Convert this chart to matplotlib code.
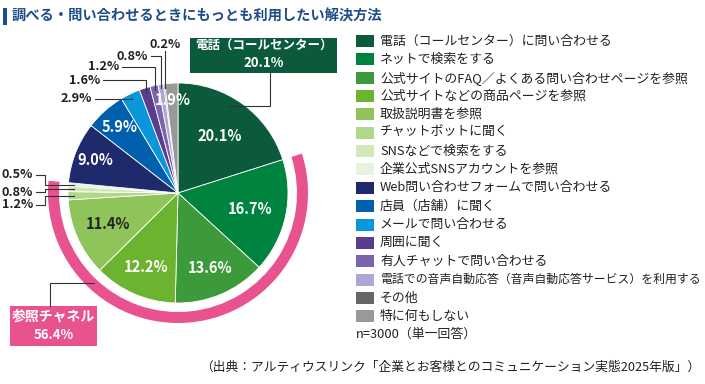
import numpy as np
import matplotlib
matplotlib.use("Agg")
import matplotlib.pyplot as plt
from matplotlib.patches import Wedge, Rectangle

plt.rcParams['font.family'] = ['Noto Sans CJK JP', 'DejaVu Sans']

title = "調べる・問い合わせるときにもっとも利用したい解決方法"

labels = [
    "電話（コールセンター）に問い合わせる",
    "ネットで検索をする",
    "公式サイトのFAQ／よくある問い合わせページを参照",
    "公式サイトなどの商品ページを参照",
    "取扱説明書を参照",
    "チャットボットに聞く",
    "SNSなどで検索をする",
    "企業公式SNSアカウントを参照",
    "Web問い合わせフォームで問い合わせる",
    "店員（店舗）に聞く",
    "メールで問い合わせる",
    "周囲に聞く",
    "有人チャットで問い合わせる",
    "電話での音声自動応答（音声自動応答サービス）を利用する",
    "その他",
    "特に何もしない",
]
values = [20.1, 16.7, 13.6, 12.2, 11.4, 1.2, 0.8, 0.5, 9.0, 5.9, 2.9, 1.6, 1.2, 0.8, 0.2, 1.9]
colors = ["#0b5a3c", "#00833f", "#3c9a3a", "#6cb42f", "#8fc45a", "#b1d78c",
          "#d2e8b8", "#e8f3dd", "#1e2a6b", "#0060ad", "#0a96da", "#5a3d8c",
          "#7b63ad", "#b0a6d4", "#666666", "#999999"]

# slices grouped as 参照チャネル (index range) and the callouts
ref_group = (1, 8)
ref_label = "参照チャネル"
ref_total = "56.4%"
phone_label = "電話（コールセンター）"
phone_total = "20.1%"
note = "n=3000（単一回答）"
source = "（出典：アルティウスリンク「企業とお客様とのコミュニケーション実態2025年版」）"

W, H = 705, 384
cx, cy, R = 178, 193, 110
pink = "#e8528f"
line_c = "#333333"
dark = "#222222"


def P(x, y):
    # image pixel coords -> data coords
    return x, H - y


fig = plt.figure(figsize=(7.05, 3.84), dpi=100)
ax = fig.add_axes([0, 0, 1, 1])

wedges, _ = ax.pie(values, colors=colors, startangle=90, counterclock=False,
                   center=P(cx, cy), radius=R,
                   wedgeprops=dict(edgecolor="white", linewidth=0.6))
ax.set_xlim(0, W)
ax.set_ylim(0, H)
ax.set_aspect("equal")
ax.axis("off")

cum = np.concatenate([[0], np.cumsum(values)])
total = cum[-1]


def ang(c):
    return 90 - c / total * 360


def slice_pt(i, r):
    a = np.deg2rad(ang((cum[i] + cum[i + 1]) / 2))
    return cx + r * np.cos(a), cy - r * np.sin(a)


# pink ring round the 参照 slices
t2 = ang(cum[ref_group[0]])
t1 = ang(cum[ref_group[1]])
ax.add_patch(Wedge(P(cx, cy), 130, t1, t2, width=11, facecolor=pink, edgecolor="none"))

# labels inside the big slices
inside = {0: 0.64, 1: 0.67, 2: 0.74, 3: 0.73, 4: 0.70, 8: 0.81, 9: 0.80, 15: 0.85}
for i, d in inside.items():
    x, y = slice_pt(i, R * d)
    col = dark if i == 4 else "white"
    ax.text(*P(x, y), f"{values[i]:.1f}%", ha="center", va="center",
            fontsize=10.5, fontweight="bold", color=col)

# labels outside the small slices (top)
top = {10: (92, 99), 11: (100, 80), 12: (119, 67), 13: (148, 56)}
for i, (lx, ly) in top.items():
    px, py = slice_pt(i, 106)
    ax.text(*P(lx, ly), f"{values[i]:.1f}%", ha="right", va="center",
            fontsize=9.2, fontweight="bold", color=dark)
    ax.plot(*zip(P(lx + 3, ly), P(px, ly), P(px, py)), color=line_c, lw=0.8)

px, py = slice_pt(14, 106)
ax.text(*P(px, 44), f"{values[14]:.1f}%", ha="center", va="center",
        fontsize=9.2, fontweight="bold", color=dark)
ax.plot(*zip(P(px, 51), P(px, py)), color=line_c, lw=0.8)

# labels outside the small slices (left)
left = {7: 175, 6: 192, 5: 205}
for i, ly in left.items():
    px, py = slice_pt(i, 104)
    ax.text(*P(33, ly), f"{values[i]:.1f}%", ha="right", va="center",
            fontsize=9.2, fontweight="bold", color=dark)
    ax.plot(*zip(P(36, ly), P(45, ly), P(45, py), P(px, py)), color=line_c, lw=0.8)

# 電話 callout
ax.add_patch(Rectangle(P(190, 73), 147, 35, facecolor=colors[0], edgecolor="none"))
ax.text(*P(263.5, 46), phone_label, ha="center", va="center", fontsize=9,
        fontweight="bold", color="white")
ax.text(*P(263.5, 63), phone_total, ha="center", va="center", fontsize=9.5,
        fontweight="bold", color="white")
ax.plot(*zip(P(270, 73), P(270, 106), P(229, 106)), color=line_c, lw=0.8)

# 参照チャネル callout
ax.add_patch(Rectangle(P(10, 346), 87, 40, facecolor=pink, edgecolor="none"))
ax.text(*P(53.5, 317), ref_label, ha="center", va="center", fontsize=10,
        fontweight="bold", color="white")
ax.text(*P(53.5, 335), ref_total, ha="center", va="center", fontsize=9.5,
        fontweight="bold", color="white")
ax.plot(*zip(P(50, 306), P(50, 283), P(94, 283)), color=line_c, lw=0.8)

# title
ax.add_patch(Rectangle(P(3, 25), 3.5, 17, facecolor="#1d4e89", edgecolor="none"))
ax.text(*P(12, 16), title, ha="left", va="center", fontsize=10.3,
        fontweight="bold", color="#1d4e89")

# legend
renderer = fig.canvas.get_renderer()
for k, (lab, c) in enumerate(zip(labels, colors)):
    y = 41 + k * 18.35
    ax.add_patch(Rectangle(P(356, y + 6), 18, 12, facecolor=c, edgecolor="none"))
    t = ax.text(*P(380, y), lab, ha="left", va="center", fontsize=9.3, color=dark)
    w = t.get_window_extent(renderer).width
    if 380 + w > 701:
        t.set_fontsize(9.3 * (701 - 380) / w)
ax.text(*P(356, 334), note, ha="left", va="center", fontsize=9.3, color=dark)

ax.text(*P(700, 367), source, ha="right", va="center", fontsize=9.2, color=dark)

fig.savefig("out.png", dpi=100)
